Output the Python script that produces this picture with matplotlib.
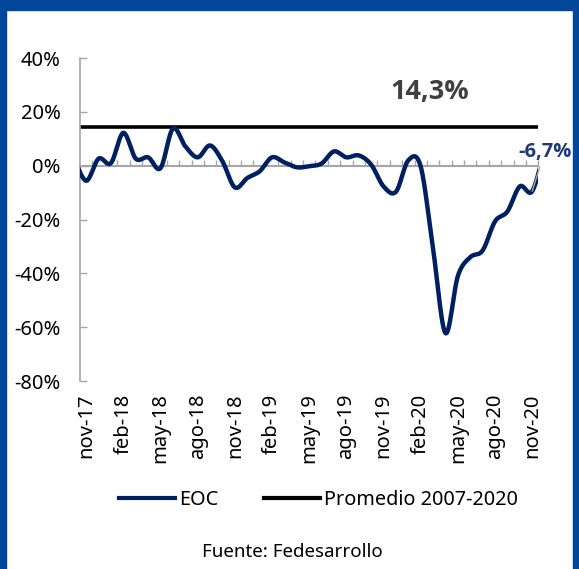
"""
EOC vs promedio 2007-2020 (Fedesarrollo), recreated with matplotlib.
Output: out.png
"""
import matplotlib
matplotlib.use("Agg")
import matplotlib.pyplot as plt
import numpy as np
from matplotlib.lines import Line2D

plt.rcParams["font.family"] = ["Noto Sans", "DejaVu Sans"]

# Months nov-17 .. nov-20 (one label every 3 months)
months = ["nov-17", "dic-17", "ene-18", "feb-18", "mar-18", "abr-18", "may-18",
          "jun-18", "jul-18", "ago-18", "sep-18", "oct-18", "nov-18", "dic-18",
          "ene-19", "feb-19", "mar-19", "abr-19", "may-19", "jun-19", "jul-19",
          "ago-19", "sep-19", "oct-19", "nov-19", "dic-19", "ene-20", "feb-20",
          "mar-20", "abr-20", "may-20", "jun-20", "jul-20", "ago-20", "sep-20",
          "oct-20", "nov-20"]
eoc = [-5.6, 2.6, 1.0, 12.2, 2.6, 3.1, -0.9, 13.8, 7.2, 3.1, 7.5, 1.6, -8.1,
       -4.6, -2.1, 3.1, 1.2, -0.6, -0.2, 0.8, 5.3, 3.1, 3.8, 0.4, -7.7, -9.7,
       2.0, -0.3, -31.0, -62.2, -41.0, -34.0, -31.5, -20.7, -17.0, -7.7, -9.5]
# partially visible months just outside the axis (oct-17, dic-20)
eoc_before = 3.0
eoc_after = 6.0
promedio = 14.3
last_label = "-6,7%"
yticks = [40, 20, 0, -20, -40, -60, -80]

NAVY = "#002060"
GRAY = "#A6A6A6"
FRAME = "#03479A"
BOLD_FONT = ["Open Sans", "DejaVu Sans"]


def smooth(x, y, n=24):
    # Catmull-Rom curve through the points (like Excel's smoothed line)
    x = np.asarray(x, float)
    y = np.asarray(y, float)
    px = np.concatenate([[x[0]], x, [x[-1]]])
    py = np.concatenate([[y[0]], y, [y[-1]]])
    xs, ys = [], []
    t = np.linspace(0, 1, n, endpoint=False)
    for i in range(1, len(px) - 2):
        for p, out in ((px, xs), (py, ys)):
            p0, p1, p2, p3 = p[i - 1], p[i], p[i + 1], p[i + 2]
            out.append(0.5 * ((2 * p1) + (-p0 + p2) * t
                              + (2 * p0 - 5 * p1 + 4 * p2 - p3) * t ** 2
                              + (-p0 + 3 * p1 - 3 * p2 + p3) * t ** 3))
    xs.append([x[-1]])
    ys.append([y[-1]])
    return np.concatenate(xs), np.concatenate(ys)


fig = plt.figure(figsize=(5.79, 5.69), dpi=100)
ax = fig.add_axes([80 / 579, 1 - 381 / 569, 458.4 / 579, 323 / 569])

xall = np.arange(-1, len(eoc) + 1)
yall = [eoc_before] + eoc + [eoc_after]
sx, sy = smooth(xall, yall)
ax.plot(sx, sy, color=NAVY, linewidth=3.2, solid_capstyle="round", zorder=3)
ax.axhline(promedio, color="black", linewidth=2.6, zorder=2)

ax.set_xlim(-0.5, len(eoc) - 0.5)
ax.set_ylim(-80, 40)

# y axis
ax.set_yticks(yticks)
ax.set_yticklabels([f"{v}%" for v in yticks], fontsize=14.5)
ax.tick_params(axis="y", direction="in", length=5, color=GRAY, width=1, pad=14)
ax.spines["left"].set_color(GRAY)
ax.spines["left"].set_linewidth(1.2)
ax.spines["top"].set_visible(False)
ax.spines["right"].set_visible(False)

# zero line with small category ticks
ax.spines["bottom"].set_position(("data", 0))
ax.spines["bottom"].set_color(GRAY)
ax.spines["bottom"].set_linewidth(1.5)
ax.set_xticks(np.arange(0.5, len(eoc), 1))
ax.tick_params(axis="x", direction="in", length=4, color=GRAY, width=1,
               labelbottom=False)

# month labels at the bottom
sec = ax.secondary_xaxis("bottom")
sec.set_xticks(range(0, len(months), 3))
sec.set_xticklabels(months[::3], rotation=90, fontsize=14.5)
sec.tick_params(length=0, pad=9)
sec.spines["bottom"].set_visible(False)

ax.text(27.7, 27.5, f"{promedio:.1f}%".replace(".", ","), fontsize=19.5,
        fontweight="bold", family=BOLD_FONT, color="#404040",
        ha="center", va="center")
ax.annotate(last_label, xy=(len(eoc) - 1, eoc[-1]), xytext=(37.0, 5.2),
            fontsize=14.5, fontweight="bold", family=BOLD_FONT,
            color="#1F3A7A", ha="center", va="center", annotation_clip=False,
            arrowprops=dict(arrowstyle="-", color=GRAY, lw=1,
                            shrinkA=2, shrinkB=0))

handles = [Line2D([], [], color=NAVY, linewidth=3),
           Line2D([], [], color="black", linewidth=3)]
fig.legend(handles, ["EOC", "Promedio 2007-2020"], loc="center",
           bbox_to_anchor=(0.55, 1 - 500 / 569), ncol=2, frameon=False,
           fontsize=14.3, handlelength=2.8, handletextpad=0.2,
           columnspacing=2.3)
fig.text(292 / 579, 1 - 552 / 569, "Fuente: Fedesarrollo", fontsize=13.5,
         ha="center", va="center")

# blue frame
for rect in ([0, 1 - 10 / 569, 1, 10 / 569], [0, 0, 6 / 579, 1],
             [1 - 6 / 579, 0, 6 / 579, 1]):
    fig.patches.append(plt.Rectangle(rect[:2], rect[2], rect[3],
                                     transform=fig.transFigure,
                                     color=FRAME, zorder=10))

fig.savefig("out.png", dpi=100)
plt.close()
print("Saved out.png")
